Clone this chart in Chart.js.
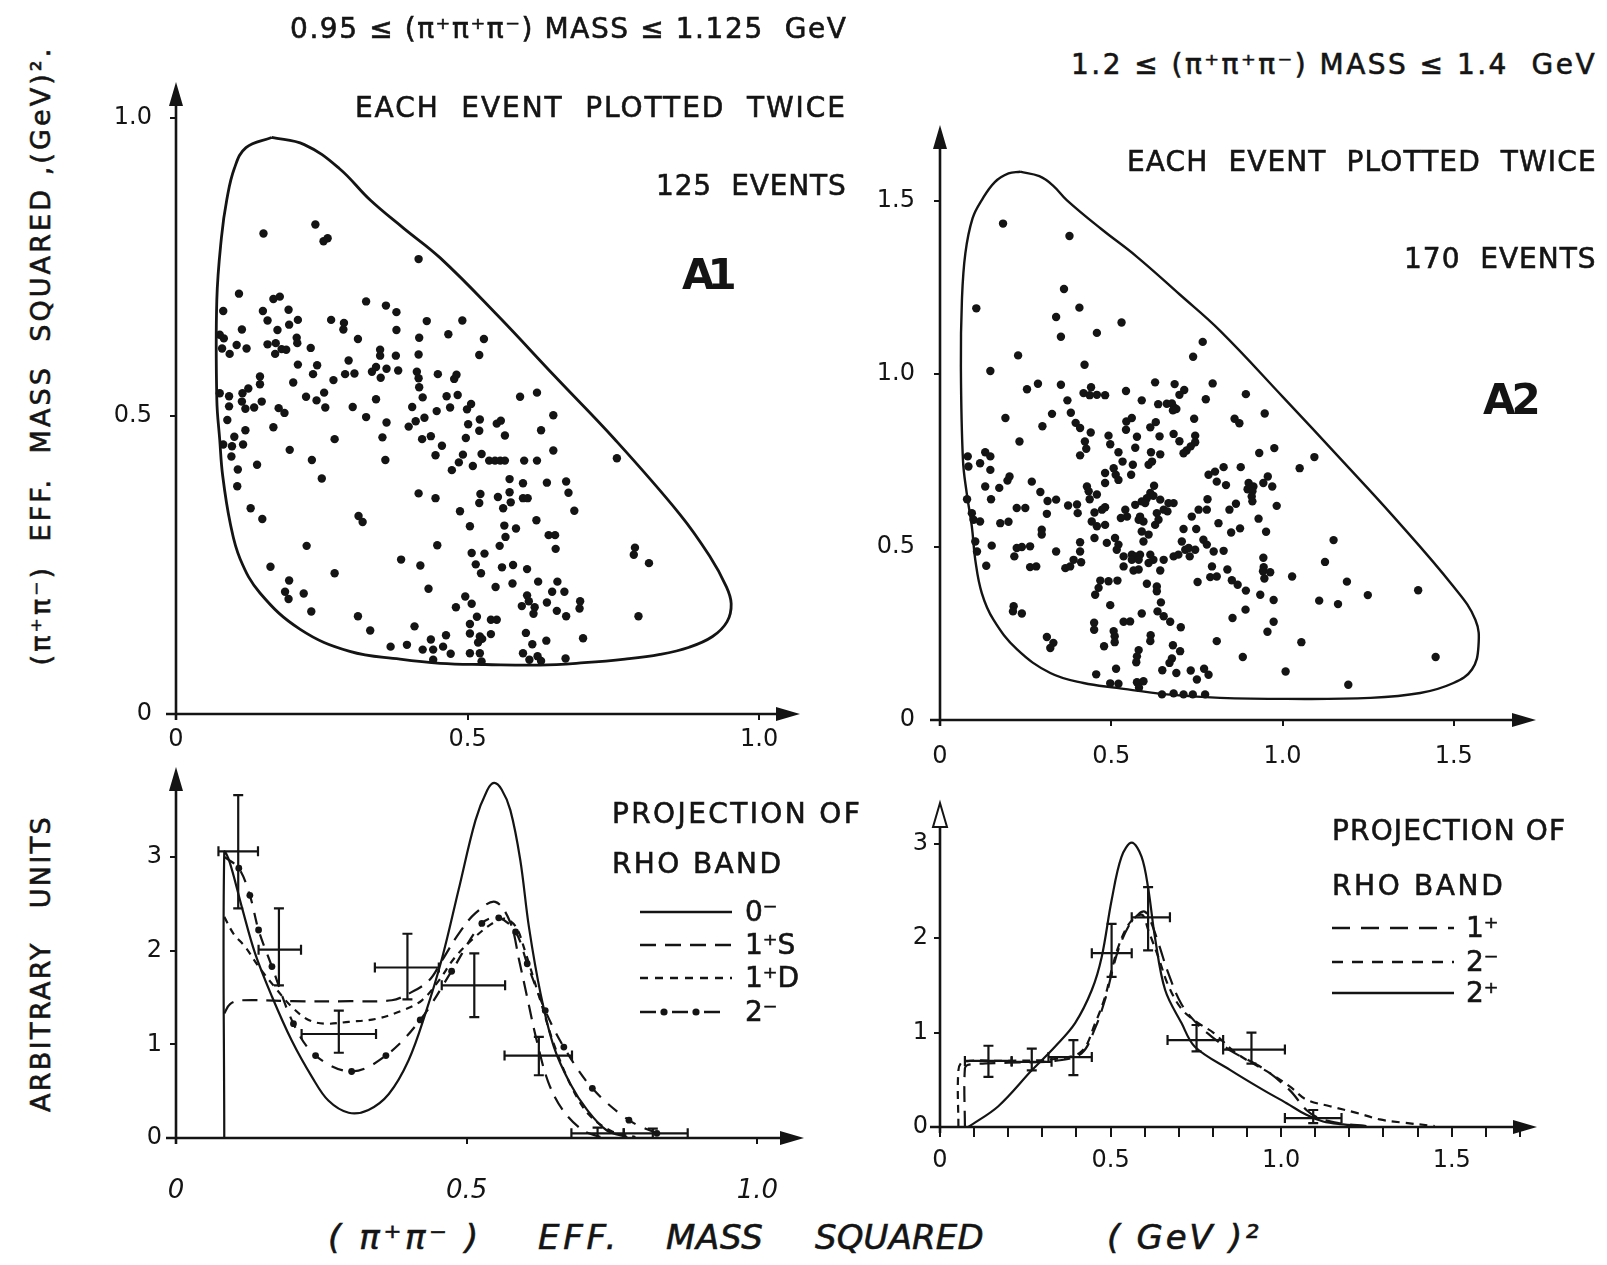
<!DOCTYPE html>
<html lang="en">
<head>
<meta charset="UTF-8">
<title>Dalitz plots A1 / A2 and rho band projections</title>
<script src="https://cdn.jsdelivr.net/npm/chart.js"></script>
<style>
  body { margin: 0; background: #fff; }
  #stage { position: relative; width: 1607px; height: 1265px; overflow: hidden; background: #fff;
           font-family: "DejaVu Sans", sans-serif; color: #141414; }
  .panel { position: absolute; }
  .t { position: absolute; white-space: pre; line-height: 1; font-size: 28px; -webkit-text-stroke: 0.6px #141414; }
  .it { font-style: italic; font-size: 34px; }
  .big { font-size: 42px; font-weight: bold; -webkit-text-stroke: 0; }
  .rot { transform: rotate(-90deg); transform-origin: center center; font-size: 27px; }
  .key { position: absolute; }
</style>
</head>
<body>
<div id="stage">
  <!-- top left -->
  <div class="t" style="left:290px;top:15px" data-w="557">0.95 ≤ (π⁺π⁺π⁻) MASS ≤ 1.125  GeV</div>
  <div class="t" style="left:355px;top:94px" data-w="492">EACH  EVENT  PLOTTED  TWICE</div>
  <div class="t" style="left:656px;top:172px" data-w="191">125  EVENTS</div>
  <div class="t big" style="left:682px;top:254px" data-w="48">A1</div>
  <!-- top right -->
  <div class="t" style="left:1071px;top:51px" data-w="526">1.2 ≤ (π⁺π⁺π⁻) MASS ≤ 1.4  GeV</div>
  <div class="t" style="left:1127px;top:148px" data-w="470">EACH  EVENT  PLOTTED  TWICE</div>
  <div class="t" style="left:1404px;top:245px" data-w="193">170  EVENTS</div>
  <div class="t big" style="left:1483px;top:379px" data-w="54">A2</div>
  <!-- side titles -->
  <div class="t rot" style="left:-269px;top:342px" data-w="620">(π⁺π⁻)  EFF.  MASS  SQUARED ,(GeV)².</div>
  <div class="t rot" style="left:-108px;top:950px" data-w="297">ARBITRARY   UNITS</div>
  <!-- bottom left key -->
  <div class="t" style="left:612px;top:800px" data-w="250">PROJECTION OF</div>
  <div class="t" style="left:612px;top:850px" data-w="171">RHO BAND</div>
  <svg class="key" style="left:636px;top:890px" width="100" height="135">
    <g stroke="#141414" stroke-width="2.4">
      <line x1="4" y1="22" x2="96" y2="22"/>
      <line x1="4" y1="55" x2="96" y2="55" stroke-dasharray="16 9"/>
      <line x1="4" y1="88" x2="96" y2="88" stroke-dasharray="8 7"/>
      <line x1="4" y1="122" x2="96" y2="122" stroke-dasharray="16 16"/>
    </g>
    <g fill="#141414"><circle cx="28" cy="122" r="3.6"/><circle cx="60" cy="122" r="3.6"/></g>
  </svg>
  <div class="t" style="left:745px;top:898px">0⁻</div>
  <div class="t" style="left:745px;top:931px">1⁺S</div>
  <div class="t" style="left:745px;top:964px">1⁺D</div>
  <div class="t" style="left:745px;top:998px">2⁻</div>
  <!-- bottom right key -->
  <div class="t" style="left:1332px;top:817px" data-w="234">PROJECTION OF</div>
  <div class="t" style="left:1332px;top:872px" data-w="173">RHO BAND</div>
  <svg class="key" style="left:1330px;top:910px" width="126" height="100">
    <g stroke="#141414" stroke-width="2.4">
      <line x1="2" y1="18" x2="124" y2="18" stroke-dasharray="18 11"/>
      <line x1="2" y1="52" x2="124" y2="52" stroke-dasharray="11 9"/>
      <line x1="2" y1="83" x2="124" y2="83"/>
    </g>
  </svg>
  <div class="t" style="left:1466px;top:914px">1⁺</div>
  <div class="t" style="left:1466px;top:948px">2⁻</div>
  <div class="t" style="left:1466px;top:979px">2⁺</div>
  <!-- bottom axis title -->
  <div class="t it" style="left:328px;top:1220px" data-w="154">( π⁺π⁻ )</div>
  <div class="t it" style="left:538px;top:1220px" data-w="82">EFF.</div>
  <div class="t it" style="left:666px;top:1220px" data-w="98">MASS</div>
  <div class="t it" style="left:815px;top:1220px" data-w="169">SQUARED</div>
  <div class="t it" style="left:1107px;top:1220px" data-w="154">( GeV )²</div>
</div>

<script>
// ---- A1 : 0.95 - 1.125 GeV, each event plotted twice ----
const a1Points = [
  [0.150,0.806],[0.239,0.821],[0.253,0.793],[0.260,0.798],[0.416,0.763],[0.108,0.705],[0.167,0.696],[0.178,0.700],
  [0.081,0.676],[0.149,0.676],[0.193,0.678],[0.326,0.692],[0.360,0.685],[0.378,0.674],[0.157,0.660],[0.209,0.661],
  [0.266,0.661],[0.288,0.656],[0.287,0.645],[0.430,0.659],[0.113,0.645],[0.194,0.653],[0.174,0.644],[0.378,0.644],
  [0.075,0.636],[0.082,0.630],[0.104,0.619],[0.121,0.613],[0.079,0.613],[0.157,0.620],[0.171,0.622],[0.207,0.631],
  [0.208,0.622],[0.181,0.612],[0.189,0.611],[0.231,0.614],[0.312,0.629],[0.417,0.631],[0.092,0.604],[0.170,0.604],
  [0.350,0.611],[0.350,0.601],[0.377,0.601],[0.416,0.603],[0.296,0.593],[0.209,0.586],[0.242,0.585],[0.235,0.570],
  [0.290,0.570],[0.306,0.571],[0.336,0.574],[0.343,0.582],[0.361,0.579],[0.381,0.576],[0.351,0.564],[0.413,0.574],
  [0.416,0.563],[0.417,0.548],[0.449,0.570],[0.144,0.566],[0.144,0.553],[0.201,0.556],[0.270,0.560],[0.124,0.546],
  [0.075,0.538],[0.091,0.533],[0.114,0.538],[0.113,0.524],[0.147,0.524],[0.223,0.532],[0.241,0.526],[0.254,0.539],
  [0.343,0.528],[0.423,0.531],[0.091,0.516],[0.119,0.512],[0.134,0.514],[0.176,0.513],[0.186,0.505],[0.256,0.514],
  [0.303,0.515],[0.405,0.515],[0.447,0.508],[0.088,0.493],[0.326,0.498],[0.361,0.489],[0.411,0.491],[0.426,0.497],
  [0.399,0.482],[0.119,0.476],[0.167,0.481],[0.437,0.466],[0.100,0.465],[0.272,0.461],[0.354,0.464],[0.422,0.461],
  [0.491,0.660],[0.467,0.637],[0.528,0.629],[0.520,0.602],[0.477,0.562],[0.481,0.569],[0.464,0.533],[0.483,0.535],
  [0.470,0.514],[0.499,0.511],[0.506,0.520],[0.590,0.532],[0.619,0.539],[0.647,0.501],[0.501,0.486],[0.521,0.494],
  [0.520,0.475],[0.550,0.487],[0.557,0.492],[0.564,0.467],[0.626,0.476],[0.497,0.463],
  [0.096,0.449],[0.115,0.452],[0.095,0.432],[0.081,0.452],[0.139,0.418],[0.106,0.410],[0.105,0.382],[0.195,0.443],
  [0.233,0.426],[0.250,0.395],[0.359,0.426],[0.445,0.434],[0.128,0.345],[0.148,0.327],[0.313,0.332],[0.320,0.322],
  [0.416,0.370],[0.445,0.362],[0.224,0.282],[0.448,0.283],[0.162,0.247],[0.272,0.236],[0.386,0.259],[0.419,0.249],
  [0.433,0.210],[0.194,0.224],[0.187,0.205],[0.193,0.193],[0.219,0.202],[0.232,0.172],[0.312,0.164],[0.333,0.140],
  [0.409,0.147],[0.368,0.113],[0.396,0.116],[0.423,0.108],[0.437,0.125],[0.441,0.108],[0.441,0.091],
  [0.456,0.450],[0.492,0.435],[0.485,0.422],[0.473,0.409],[0.509,0.416],[0.524,0.436],[0.537,0.425],[0.547,0.425],
  [0.556,0.425],[0.564,0.425],[0.597,0.425],[0.619,0.425],[0.647,0.442],[0.756,0.429],[0.572,0.394],[0.595,0.387],
  [0.636,0.388],[0.669,0.390],[0.673,0.371],[0.522,0.369],[0.520,0.354],[0.552,0.364],[0.572,0.372],[0.574,0.355],
  [0.561,0.345],[0.595,0.362],[0.603,0.362],[0.683,0.341],[0.487,0.340],[0.504,0.315],[0.563,0.316],[0.583,0.311],
  [0.618,0.325],[0.565,0.297],[0.639,0.300],[0.650,0.300],[0.555,0.282],[0.651,0.277],[0.507,0.270],[0.529,0.269],
  [0.787,0.279],[0.785,0.267],[0.811,0.253],[0.514,0.251],[0.523,0.236],[0.559,0.246],[0.578,0.250],[0.602,0.243],
  [0.548,0.213],[0.577,0.219],[0.621,0.222],[0.654,0.222],[0.645,0.205],[0.666,0.205],[0.496,0.197],[0.507,0.185],
  [0.480,0.179],[0.602,0.199],[0.605,0.189],[0.593,0.181],[0.615,0.179],[0.613,0.168],[0.636,0.187],[0.653,0.173],
  [0.669,0.164],[0.693,0.189],[0.692,0.177],[0.793,0.164],[0.516,0.163],[0.504,0.151],[0.540,0.158],[0.550,0.158],
  [0.463,0.132],[0.504,0.135],[0.521,0.130],[0.525,0.126],[0.518,0.120],[0.540,0.134],[0.600,0.136],[0.611,0.117],
  [0.635,0.123],[0.698,0.127],[0.458,0.113],[0.471,0.101],[0.504,0.102],[0.521,0.102],[0.524,0.088],[0.595,0.102],
  [0.606,0.091],[0.620,0.097],[0.626,0.089],[0.668,0.093]
];
const a1Boundary = [
  [0.164,0.967],[0.22,0.955],[0.28,0.915],[0.333,0.862],[0.39,0.815],[0.453,0.765],[0.55,0.670],[0.65,0.566],
  [0.753,0.460],[0.864,0.335],[0.915,0.265],[0.943,0.215],[0.952,0.185],[0.945,0.155],[0.920,0.130],[0.880,0.112],
  [0.830,0.100],[0.770,0.092],[0.700,0.086],[0.624,0.082],[0.53,0.083],[0.453,0.085],[0.384,0.092],[0.298,0.105],
  [0.213,0.142],[0.144,0.203],[0.11,0.260],[0.093,0.320],[0.080,0.400],[0.075,0.460],[0.070,0.527],[0.070,0.695],
  [0.078,0.800],[0.087,0.862],[0.10,0.915],[0.12,0.950],[0.164,0.967]
];

// ---- A2 : 1.2 - 1.4 GeV ----
const a2Points = [
  [0.184,1.435],[0.378,1.399],[0.362,1.246],[0.106,1.190],[0.407,1.192],[0.339,1.165],[0.530,1.149],[0.353,1.108],
  [0.458,1.119],[0.767,1.093],[0.739,1.050],[0.228,1.054],[0.147,1.009],[0.422,1.027],[0.254,0.956],[0.286,0.972],
  [0.353,0.969],[0.419,0.945],[0.441,0.962],[0.458,0.940],[0.482,0.939],[0.437,0.939],[0.543,0.951],[0.628,0.976],
  [0.685,0.971],[0.713,0.954],[0.699,0.940],[0.796,0.973],[0.776,0.927],[0.589,0.924],[0.637,0.913],[0.662,0.914],
  [0.677,0.915],[0.684,0.903],[0.690,0.899],[0.680,0.895],[0.372,0.924],[0.327,0.885],[0.382,0.888],[0.191,0.873],
  [0.299,0.849],[0.396,0.859],[0.409,0.844],[0.440,0.831],[0.544,0.863],[0.560,0.873],[0.543,0.839],[0.614,0.846],
  [0.630,0.861],[0.742,0.871],[0.232,0.805],[0.492,0.822],[0.575,0.819],[0.641,0.820],[0.682,0.827],[0.699,0.806],
  [0.745,0.822],[0.745,0.803],[0.732,0.791],[0.720,0.779],[0.711,0.771],[0.423,0.805],[0.427,0.784],[0.497,0.797],
  [0.570,0.787],[0.132,0.774],[0.147,0.762],[0.081,0.762],[0.409,0.765],[0.521,0.774],[0.616,0.774],[0.643,0.768],
  [0.893,0.942],[0.860,0.871],[0.874,0.858],[0.948,0.886],[0.932,0.772],[0.976,0.786],[1.093,0.760],
  [0.083,0.733],[0.117,0.742],[0.147,0.723],[0.203,0.704],[0.197,0.692],[0.268,0.689],[0.482,0.714],[0.507,0.728],
  [0.513,0.709],[0.521,0.694],[0.533,0.747],[0.563,0.738],[0.558,0.709],[0.609,0.738],[0.619,0.747],[0.784,0.709],
  [0.803,0.718],[0.808,0.689],[0.132,0.675],[0.173,0.671],[0.293,0.659],[0.429,0.675],[0.434,0.661],[0.482,0.685],
  [0.458,0.652],[0.625,0.677],[0.614,0.656],[0.623,0.648],[0.604,0.641],[0.079,0.638],[0.149,0.638],[0.314,0.633],
  [0.339,0.637],[0.437,0.638],[0.374,0.620],[0.400,0.623],[0.402,0.598],[0.224,0.613],[0.249,0.613],[0.312,0.596],
  [0.451,0.600],[0.473,0.608],[0.482,0.615],[0.570,0.622],[0.589,0.632],[0.599,0.627],[0.541,0.608],[0.546,0.588],
  [0.528,0.584],[0.643,0.637],[0.667,0.627],[0.682,0.627],[0.653,0.608],[0.664,0.603],[0.633,0.598],[0.755,0.608],
  [0.779,0.608],[0.781,0.638],[0.735,0.588],[0.093,0.598],[0.098,0.579],[0.117,0.574],[0.176,0.569],[0.200,0.573],
  [0.584,0.588],[0.594,0.574],[0.580,0.579],[0.443,0.574],[0.458,0.560],[0.482,0.564],[0.297,0.550],[0.297,0.536],
  [0.638,0.579],[0.628,0.564],[0.711,0.552],[0.748,0.552],[0.813,0.569],[0.589,0.545],[0.609,0.536],[0.594,0.516],
  [0.451,0.526],[0.487,0.512],[0.511,0.526],[0.409,0.514],[0.103,0.516],[0.108,0.487],[0.151,0.504],[0.224,0.497],
  [0.239,0.500],[0.263,0.502],[0.217,0.473],[0.339,0.487],[0.409,0.487],[0.412,0.456],[0.521,0.507],[0.516,0.492],
  [0.536,0.473],[0.560,0.478],[0.570,0.473],[0.584,0.478],[0.560,0.463],[0.580,0.463],[0.614,0.478],[0.623,0.463],
  [0.609,0.454],[0.653,0.463],[0.682,0.473],[0.696,0.478],[0.716,0.492],[0.726,0.497],[0.745,0.492],[0.729,0.473],
  [0.769,0.521],[0.779,0.507],[0.799,0.487],[0.706,0.516],[0.135,0.446],[0.263,0.442],[0.281,0.444],[0.366,0.439],
  [0.380,0.444],[0.390,0.463],[0.536,0.444],[0.565,0.432],[0.580,0.435],[0.643,0.432],[0.794,0.444],[0.789,0.413],
  [0.808,0.415],[0.468,0.403],[0.492,0.401],[0.518,0.403],[0.463,0.382],[0.453,0.362],[0.604,0.394],[0.633,0.386],
  [0.633,0.372],[0.752,0.399],[0.497,0.332],[0.645,0.340],[0.215,0.329],[0.213,0.314],[0.239,0.308],[0.589,0.308],
  [0.635,0.314],[0.653,0.300],[0.672,0.284],[0.536,0.284],[0.555,0.285],[0.450,0.281],[0.450,0.261],[0.703,0.268],
  [0.507,0.257],[0.510,0.242],[0.510,0.225],[0.312,0.240],[0.331,0.223],[0.322,0.208],[0.615,0.245],[0.614,0.228],
  [0.808,0.228],[0.479,0.213],[0.680,0.216],[0.701,0.199],[0.580,0.202],[0.575,0.184],[0.573,0.167],[0.677,0.178],
  [0.670,0.165],[0.514,0.148],[0.649,0.144],[0.690,0.136],[0.732,0.143],[0.771,0.148],[0.784,0.131],[0.456,0.132],
  [0.750,0.117],[0.497,0.106],[0.521,0.105],[0.575,0.109],[0.594,0.112],[0.581,0.093],[0.648,0.074],[0.682,0.077],
  [0.711,0.074],[0.738,0.074],[0.774,0.074],
  [0.828,0.731],[0.878,0.731],[1.050,0.728],[0.957,0.704],[0.835,0.679],[0.901,0.685],[0.915,0.675],[0.898,0.667],
  [0.912,0.661],[0.910,0.646],[0.912,0.632],[0.944,0.685],[0.970,0.675],[0.864,0.625],[0.845,0.608],[0.983,0.619],
  [0.930,0.582],[0.876,0.554],[0.850,0.542],[0.952,0.544],[1.149,0.520],[0.828,0.489],[0.944,0.469],[1.124,0.457],
  [0.839,0.435],[0.945,0.442],[0.943,0.430],[0.964,0.427],[0.947,0.409],[1.028,0.415],[1.188,0.400],[0.852,0.404],
  [0.869,0.391],[0.893,0.374],[0.935,0.362],[0.974,0.347],[1.107,0.345],[1.162,0.335],[1.249,0.361],[1.396,0.375],
  [0.892,0.319],[0.854,0.295],[0.974,0.284],[0.956,0.255],[1.055,0.225],[0.884,0.182],[1.447,0.182],[1.009,0.140],
  [1.192,0.102]
];
const a2Boundary = [
  [0.234,1.585],[0.29,1.572],[0.33,1.545],[0.370,1.503],[0.47,1.420],[0.575,1.339],[0.70,1.230],[0.818,1.125],
  [1.0,0.935],[1.172,0.752],[1.324,0.588],[1.499,0.386],[1.563,0.290],[1.572,0.213],[1.553,0.146],[1.499,0.107],
  [1.402,0.078],[1.256,0.064],[1.013,0.061],[0.818,0.064],[0.662,0.074],[0.516,0.093],[0.419,0.107],[0.322,0.136],
  [0.225,0.204],[0.156,0.290],[0.122,0.367],[0.103,0.463],[0.093,0.559],[0.078,0.656],[0.067,0.752],[0.061,1.021],
  [0.064,1.214],[0.074,1.349],[0.095,1.450],[0.122,1.503],[0.16,1.555],[0.20,1.580],[0.234,1.585]
];

// ---- projections of the rho band, A1 region ----
const bl0m = [
  [0.083,0],[0.083,3.05],[0.092,2.95],[0.113,2.47],[0.136,1.97],[0.165,1.51],[0.199,1.04],[0.234,0.65],[0.262,0.40],
  [0.297,0.27],[0.331,0.30],[0.366,0.47],[0.400,0.83],[0.429,1.33],[0.458,1.93],[0.486,2.65],[0.515,3.39],[0.535,3.71],
  [0.547,3.79],[0.560,3.72],[0.575,3.50],[0.592,2.97],[0.607,2.25],[0.627,1.54],[0.650,0.97],[0.678,0.58],[0.707,0.30],
  [0.741,0.08],[0.776,0.01]
];
const bl1pS = [
  [0.083,1.33],[0.093,1.43],[0.113,1.47],[0.20,1.46],[0.30,1.46],[0.371,1.47],[0.400,1.54],[0.435,1.68],[0.458,1.90],
  [0.486,2.18],[0.515,2.40],[0.549,2.52],[0.575,2.30],[0.590,1.90],[0.604,1.50],[0.620,1.05],[0.640,0.60],[0.665,0.30],
  [0.700,0.08],[0.730,0.01]
];
const bl1pD = [
  [0.083,2.36],[0.099,2.18],[0.119,2.04],[0.142,1.83],[0.170,1.61],[0.199,1.40],[0.228,1.26],[0.257,1.22],[0.297,1.24],
  [0.343,1.27],[0.389,1.36],[0.423,1.47],[0.452,1.68],[0.480,1.93],[0.515,2.15],[0.549,2.31],[0.567,2.34],[0.585,2.25],
  [0.600,2.00],[0.625,1.50],[0.650,1.00],[0.680,0.55],[0.710,0.25],[0.750,0.07],[0.790,0.01]
];
const bl2m = [
  [0.083,3.00],[0.108,2.88],[0.127,2.59],[0.142,2.22],[0.165,1.83],[0.202,1.22],[0.240,0.88],[0.302,0.71],[0.361,0.88],
  [0.420,1.26],[0.474,1.78],[0.526,2.29],[0.555,2.35],[0.584,2.20],[0.604,1.86],[0.635,1.36],[0.667,0.97],[0.716,0.53],
  [0.779,0.19],[0.827,0.05]
];
// [x, xlow, xhigh, y, ylow, yhigh]
const blErr = [
  [0.107,0.073,0.141,3.06,2.45,3.66],[0.177,0.142,0.215,2.01,1.63,2.45],[0.280,0.216,0.344,1.11,0.91,1.36],
  [0.398,0.342,0.452,1.82,1.48,2.18],[0.513,0.457,0.566,1.63,1.29,1.97],[0.624,0.565,0.681,0.88,0.67,1.08],
  [0.725,0.680,0.770,0.05,0.00,0.11],[0.820,0.770,0.880,0.05,0.00,0.10]
];

// ---- projections of the rho band, A2 region ----
const br1p = [
  [0.073,0],[0.073,0.62],[0.085,0.66],[0.20,0.68],[0.337,0.70],[0.415,0.78],[0.455,1.05],[0.484,1.35],[0.503,1.62],
  [0.523,1.88],[0.552,2.12],[0.581,2.25],[0.600,2.28],[0.615,2.20],[0.640,1.95],[0.670,1.62],[0.708,1.30],[0.757,1.08],
  [0.806,0.93],[0.855,0.80],[0.947,0.62],[1.025,0.39],[1.074,0.18],[1.113,0.09],[1.172,0.04],[1.25,0.01]
];
const br2m = [
  [0.054,0],[0.054,0.60],[0.068,0.69],[0.20,0.70],[0.337,0.72],[0.415,0.80],[0.455,1.10],[0.484,1.38],[0.503,1.66],
  [0.523,1.91],[0.552,2.14],[0.581,2.24],[0.595,2.24],[0.611,2.08],[0.640,1.80],[0.669,1.50],[0.708,1.25],[0.757,1.10],
  [0.801,1.00],[0.869,0.78],[0.967,0.57],[1.025,0.43],[1.074,0.29],[1.143,0.22],[1.221,0.15],[1.289,0.08],[1.348,0.05],
  [1.45,0.01]
];
const br2p = [
  [0.083,0],[0.171,0.22],[0.269,0.60],[0.337,0.85],[0.396,1.10],[0.445,1.45],[0.474,1.80],[0.503,2.40],[0.532,2.86],
  [0.562,3.01],[0.591,2.86],[0.611,2.51],[0.630,2.01],[0.660,1.45],[0.708,1.10],[0.747,0.85],[0.850,0.605],[0.947,0.393],
  [1.016,0.252],[1.074,0.129],[1.123,0.058],[1.172,0.03],[1.25,0.01]
];
const brErr = [
  [0.142,0.073,0.210,0.70,0.53,0.86],[0.269,0.210,0.327,0.69,0.60,0.83],[0.391,0.318,0.445,0.74,0.55,0.92],
  [0.503,0.445,0.562,1.84,1.59,2.15],[0.610,0.562,0.674,2.22,1.87,2.54],[0.752,0.667,0.830,0.92,0.80,1.08],
  [0.913,0.830,1.011,0.82,0.67,1.00],[1.094,1.011,1.177,0.094,0.04,0.18]
];

// tick positions
const tlXTicks = [0, 0.5, 1.0];
const tlYTicks = [0, 0.5, 1.0];
const trXTicks = [0, 0.5, 1.0, 1.5];
const trYTicks = [0, 0.5, 1.0, 1.5];
const blXTicks = [0, 0.5, 1.0];
const blYTicks = [0, 1, 2, 3];
const brXTicks = [0,0.1,0.2,0.3,0.4,0.5,0.6,0.7,0.8,0.9,1.0,1.1,1.2,1.3,1.4,1.5,1.6,1.7];
const brXLabelled = [0, 0.5, 1.0, 1.5];
const brYTicks = [0, 1, 2, 3];

const ink = '#141414';
const tickFont = { family: '"DejaVu Sans", sans-serif', size: 24 };
const pts = arr => arr.map(([x, y]) => ({ x, y }));
const oneDec = v => (v === 0 ? '0' : v.toFixed(1));

// axis lines with arrow heads
function arrowPlugin(openY) {
  return {
    id: 'arrowAxes',
    afterDraw(chart) {
      const { ctx, chartArea: a } = chart;
      ctx.save();
      ctx.strokeStyle = ink; ctx.fillStyle = ink; ctx.lineWidth = 2.6;
      ctx.beginPath();
      ctx.moveTo(a.left - 10, a.bottom); ctx.lineTo(a.right - 12, a.bottom);
      ctx.moveTo(a.left, a.bottom + 6); ctx.lineTo(a.left, a.top + 12);
      ctx.stroke();
      ctx.beginPath();
      ctx.moveTo(a.right, a.bottom); ctx.lineTo(a.right - 24, a.bottom - 7); ctx.lineTo(a.right - 24, a.bottom + 7);
      ctx.closePath(); ctx.fill();
      ctx.beginPath();
      ctx.moveTo(a.left, a.top); ctx.lineTo(a.left - 7, a.top + 24); ctx.lineTo(a.left + 7, a.top + 24);
      ctx.closePath();
      if (openY) { ctx.lineWidth = 2; ctx.fillStyle = '#fff'; ctx.fill(); ctx.stroke(); } else ctx.fill();
      ctx.restore();
    }
  };
}

// crosses with end caps
function errorPlugin(rows) {
  return {
    id: 'errorBars',
    afterDatasetsDraw(chart) {
      if (!rows.length) return;
      const { ctx, scales: { x, y } } = chart;
      ctx.save();
      ctx.strokeStyle = ink; ctx.lineWidth = 2.2;
      rows.forEach(([cx, xlo, xhi, cy, ylo, yhi]) => {
        const px = x.getPixelForValue(cx), py = y.getPixelForValue(cy);
        const l = x.getPixelForValue(xlo), r = x.getPixelForValue(xhi);
        const t = y.getPixelForValue(yhi), b = y.getPixelForValue(ylo);
        ctx.beginPath();
        ctx.moveTo(l, py); ctx.lineTo(r, py);
        ctx.moveTo(px, t); ctx.lineTo(px, b);
        ctx.moveTo(l, py - 5); ctx.lineTo(l, py + 5);
        ctx.moveTo(r, py - 5); ctx.lineTo(r, py + 5);
        ctx.moveTo(px - 5, t); ctx.lineTo(px + 5, t);
        ctx.moveTo(px - 5, b); ctx.lineTo(px + 5, b);
        ctx.stroke();
      });
      ctx.restore();
    }
  };
}

function axis(a, fit) {
  return {
    type: 'linear', min: a.min, max: a.max,
    afterBuildTicks: s => { s.ticks = a.ticks.map(v => ({ value: v })); },
    afterFit: fit,
    ticks: { autoSkip: false, maxRotation: 0, padding: a.pad, color: ink, font: a.font || tickFont, callback: a.label },
    grid: { drawOnChartArea: false, tickLength: a.tick || 6, color: ink, lineWidth: 2 },
    border: { display: false }
  };
}

function buildPanel(cfg) {
  const [l, t, r, b] = cfg.area;
  const [ml, mt, mr, mb] = cfg.margin;
  const w = r - l + ml + mr, h = b - t + mt + mb;
  const box = document.createElement('div');
  box.className = 'panel';
  Object.assign(box.style, { left: (l - ml) + 'px', top: (t - mt) + 'px', width: w + 'px', height: h + 'px' });
  const cv = document.createElement('canvas');
  cv.width = w; cv.height = h;
  box.appendChild(cv);
  document.getElementById('stage').prepend(box);
  return new Chart(cv, {
    type: 'scatter',
    data: { datasets: cfg.datasets },
    options: {
      responsive: false, animation: false, devicePixelRatio: 1,
      layout: { padding: { left: 0, top: mt, right: mr, bottom: 0 } },
      plugins: { legend: { display: false }, tooltip: { enabled: false } },
      scales: {
        x: axis(cfg.x, s => { s.height = mb; }),
        y: axis(cfg.y, s => { s.width = ml; })
      }
    },
    plugins: [arrowPlugin(cfg.openY), errorPlugin(cfg.errors || [])]
  });
}

const dots = arr => ({ data: pts(arr), showLine: false, pointRadius: 4.2, pointBackgroundColor: ink, pointBorderWidth: 0 });
const curve = (arr, dash, width, extra) => Object.assign({
  data: pts(arr), showLine: true, pointRadius: 0, borderColor: ink, borderWidth: width || 2.2,
  borderDash: dash || [], tension: 0.35, fill: false
}, extra || {});

buildPanel({
  area: [176, 82, 800, 714], margin: [80, 40, 20, 45],
  x: { min: 0, max: 1.07, ticks: tlXTicks, label: oneDec, pad: 5 },
  y: { min: 0, max: 1.06, ticks: tlYTicks, label: oneDec, pad: 18 },
  datasets: [curve(a1Boundary, null, 2.8, { tension: 0.4 }), dots(a1Points)]
});

buildPanel({
  area: [940, 125, 1536, 720], margin: [80, 40, 20, 45],
  x: { min: 0, max: 1.74, ticks: trXTicks, label: oneDec, pad: 16 },
  y: { min: 0, max: 1.72, ticks: trYTicks, label: oneDec, pad: 19 },
  datasets: [curve(a2Boundary, null, 2.4, { tension: 0.4 }), dots(a2Points)]
});

buildPanel({
  area: [176, 767, 804, 1138], margin: [60, 40, 20, 70],
  x: { min: 0, max: 1.08, ticks: blXTicks, label: oneDec, pad: 32,
       font: { family: '"DejaVu Sans", sans-serif', size: 26, style: 'italic' } },
  y: { min: 0, max: 3.96, ticks: blYTicks, label: v => String(v), pad: 8 },
  errors: blErr,
  datasets: [
    curve(bl0m, null, 2.2),
    curve(bl1pS, [15, 9], 2.2),
    curve(bl1pD, [7, 6], 2.2),
    curve(bl2m, [12, 10], 2.2, { pointRadius: c => (c.dataIndex === 0 ? 0 : 3.4), pointBackgroundColor: ink, pointBorderWidth: 0 })
  ]
});

buildPanel({
  area: [940, 803, 1537, 1127], margin: [60, 40, 20, 50],
  x: { min: 0, max: 1.75, ticks: brXTicks, label: v => (brXLabelled.includes(v) ? oneDec(v) : ''), pad: 9, tick: 10 },
  y: { min: 0, max: 3.43, ticks: brYTicks, label: v => String(v), pad: 6 },
  errors: brErr, openY: true,
  datasets: [
    curve(br2p, null, 2.2),
    curve(br1p, [16, 9], 2.2),
    curve(br2m, [8, 6], 2.2)
  ]
});

// stretch lettering to the widths of the original captions
function fitText() {
  document.querySelectorAll('[data-w]').forEach(el => {
    el.style.letterSpacing = '0px';
    const n = el.textContent.length;
    const gap = (+el.dataset.w - el.offsetWidth) / Math.max(n, 1);
    el.style.letterSpacing = gap.toFixed(2) + 'px';
  });
}
fitText();
</script>
</body>
</html>
